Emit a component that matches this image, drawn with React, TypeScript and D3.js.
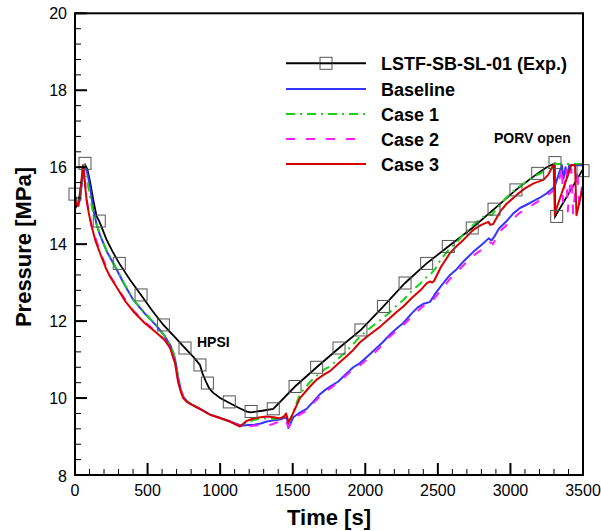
import React from 'react';
import * as d3 from 'd3';

// axis ticks
const xTicks = [0, 500, 1000, 1500, 2000, 2500, 3000, 3500];
const yTicks = [8, 10, 12, 14, 16, 18, 20];

// LSTF-SB-SL-01 experiment [time s, pressure MPa]
const expLine = [
  [0, 15.3], [12, 15.0], [25, 15.1], [40, 15.5], [55, 15.9], [70, 16.06], [85, 15.95], [105, 15.6],
  [126, 15.15], [149, 14.72], [167, 14.6], [218, 14.11], [260, 13.8], [305, 13.5], [380, 13.07],
  [455, 12.68], [530, 12.28], [609, 11.9], [690, 11.58], [758, 11.3], [820, 11.05], [861, 10.86],
  [880, 10.62], [903, 10.42], [925, 10.25], [951, 10.14], [1000, 10.0], [1045, 9.91], [1120, 9.76],
  [1183, 9.65], [1213, 9.63], [1290, 9.67], [1366, 9.72], [1516, 10.3], [1665, 10.8], [1819, 11.3],
  [1970, 11.77], [2125, 12.38], [2274, 12.99], [2423, 13.5], [2572, 13.94], [2737, 14.42],
  [2887, 14.91], [3038, 15.41], [3188, 15.84], [3250, 16.0], [3305, 16.1], [3308, 14.72], [3500, 15.95],
];
const expMarkers = [
  [0, 15.3], [69, 16.1], [167, 14.6], [305, 13.5], [455, 12.68], [609, 11.9], [758, 11.3], [861, 10.86],
  [912, 10.39], [1063, 9.9], [1213, 9.65], [1366, 9.72], [1516, 10.3], [1665, 10.8], [1819, 11.3],
  [1970, 11.77], [2125, 12.38], [2274, 12.99], [2423, 13.5], [2572, 13.94], [2737, 14.42],
  [2887, 14.91], [3038, 15.41], [3188, 15.84], [3307, 16.12], [3319, 14.72], [3500, 15.91],
];

const baseline = [
  [0, 15.2], [15, 15.05], [30, 15.1], [45, 15.5], [60, 15.95], [69, 16.06], [85, 15.85], [103, 15.5],
  [126, 14.9], [150, 14.5], [172, 14.24], [220, 13.8], [276, 13.42], [340, 12.95], [402, 12.55],
  [480, 12.2], [563, 11.87], [620, 11.6], [655, 11.38], [680, 11.15], [695, 10.9], [712, 10.5],
  [730, 10.2], [746, 10.04], [770, 9.92], [804, 9.83], [870, 9.7], [930, 9.57], [1000, 9.48],
  [1068, 9.39], [1148, 9.28], [1190, 9.3], [1229, 9.3], [1280, 9.34], [1321, 9.39], [1370, 9.42],
  [1412, 9.44], [1450, 9.5], [1462, 9.45], [1470, 9.22], [1480, 9.3], [1504, 9.5], [1540, 9.6],
  [1596, 9.72], [1640, 9.9], [1688, 10.1], [1720, 10.2], [1757, 10.3], [1814, 10.43], [1860, 10.6],
  [1917, 10.8], [1964, 10.91], [2020, 11.1], [2078, 11.3], [2120, 11.45], [2170, 11.65],
  [2220, 11.82], [2262, 11.95], [2320, 12.2], [2360, 12.35], [2400, 12.45], [2420, 12.47],
  [2446, 12.5], [2480, 12.7], [2520, 12.9], [2584, 13.2], [2630, 13.35], [2676, 13.55],
  [2744, 13.8], [2800, 13.98], [2850, 14.15], [2870, 14.1], [2890, 14.2], [2920, 14.4],
  [2974, 14.6], [3020, 14.8], [3066, 14.94], [3135, 15.07], [3200, 15.2], [3250, 15.32],
  [3300, 15.48], [3310, 15.55], [3335, 15.85], [3355, 16.05], [3365, 15.7], [3380, 16.0],
  [3392, 15.75], [3405, 16.05], [3500, 16.05],
];

const case1 = [
  [0, 15.2], [15, 15.05], [30, 15.15], [45, 15.6], [62, 16.05], [78, 15.8], [100, 15.3], [120, 14.9],
  [150, 14.5], [172, 14.26], [220, 13.82], [276, 13.43], [340, 12.97], [402, 12.56], [480, 12.22],
  [563, 11.88], [620, 11.6], [655, 11.38], [680, 11.15], [695, 10.9], [712, 10.5], [730, 10.2],
  [746, 10.05], [770, 9.93], [804, 9.84], [870, 9.7], [930, 9.57], [1000, 9.48], [1068, 9.39],
  [1137, 9.27], [1180, 9.36], [1229, 9.43], [1280, 9.46], [1321, 9.47], [1370, 9.46], [1412, 9.47],
  [1445, 9.52], [1458, 9.56], [1470, 9.4], [1490, 9.5], [1504, 9.65], [1550, 10.1], [1619, 10.42],
  [1665, 10.58], [1720, 10.75], [1757, 10.82], [1814, 11.02], [1860, 11.18], [1917, 11.4],
  [1964, 11.6], [2020, 11.78], [2101, 12.02], [2160, 12.2], [2220, 12.42], [2262, 12.55],
  [2320, 12.78], [2380, 12.98], [2423, 13.15], [2446, 13.2], [2480, 13.35], [2520, 13.6],
  [2584, 13.9], [2630, 14.05], [2676, 14.25], [2744, 14.5], [2800, 14.68], [2850, 14.78],
  [2870, 14.75], [2900, 14.9], [2974, 15.22], [3043, 15.45], [3100, 15.6], [3160, 15.75],
  [3227, 15.88], [3270, 16.0], [3290, 16.08], [3500, 16.08],
];

const case2 = [
  [0, 15.15], [23, 15.0], [39, 15.4], [55, 16.03], [62, 15.95], [80, 15.15], [115, 14.46],
  [172, 13.8], [241, 13.18], [320, 12.7], [402, 12.27], [480, 11.98], [563, 11.71], [620, 11.5],
  [655, 11.32], [689, 10.93], [712, 10.41], [746, 10.02], [804, 9.84], [930, 9.57], [1068, 9.39],
  [1140, 9.27], [1180, 9.25], [1229, 9.28], [1280, 9.3], [1321, 9.28], [1360, 9.32], [1412, 9.4],
  [1450, 9.45], [1470, 9.25], [1490, 9.35], [1520, 9.5], [1596, 9.68], [1688, 10.05], [1757, 10.25],
  [1814, 10.4], [1917, 10.75], [1964, 10.85], [2078, 11.22], [2170, 11.6], [2262, 11.9],
  [2400, 12.4], [2446, 12.45], [2520, 12.8], [2584, 13.1], [2676, 13.45], [2744, 13.7],
  [2800, 13.85], [2860, 14.05], [2880, 14.0], [2920, 14.3], [2974, 14.5], [3066, 14.82],
  [3135, 14.98], [3250, 15.25], [3300, 15.4], [3330, 15.55], [3355, 16.0], [3362, 15.1],
  [3385, 15.95], [3395, 14.85], [3420, 15.95], [3432, 14.8], [3460, 15.95], [3475, 15.0], [3500, 15.7],
];

const case3 = [
  [0, 15.15], [10, 15.05], [23, 15.0], [32, 15.2], [39, 15.4], [48, 15.8], [55, 16.05], [62, 15.9],
  [70, 15.5], [80, 15.15], [95, 14.8], [115, 14.46], [140, 14.1], [172, 13.77], [210, 13.4],
  [241, 13.16], [300, 12.8], [350, 12.5], [402, 12.25], [480, 11.95], [563, 11.69], [620, 11.5],
  [655, 11.3], [689, 10.91], [712, 10.39], [730, 10.15], [746, 10.0], [770, 9.9], [804, 9.83],
  [870, 9.7], [930, 9.57], [1000, 9.48], [1068, 9.39], [1137, 9.26], [1180, 9.4], [1229, 9.47],
  [1280, 9.5], [1321, 9.52], [1370, 9.5], [1412, 9.47], [1440, 9.52], [1454, 9.6], [1462, 9.5],
  [1470, 9.36], [1490, 9.5], [1504, 9.62], [1550, 10.0], [1619, 10.3], [1665, 10.48], [1720, 10.62],
  [1757, 10.7], [1814, 10.9], [1860, 11.05], [1917, 11.25], [1964, 11.45], [2020, 11.62],
  [2101, 11.85], [2160, 12.05], [2220, 12.25], [2262, 12.38], [2320, 12.6], [2380, 12.8],
  [2423, 12.98], [2446, 13.03], [2460, 13.0], [2475, 13.05], [2520, 13.4], [2584, 13.77],
  [2630, 13.95], [2676, 14.11], [2744, 14.37], [2800, 14.5], [2848, 14.58], [2862, 14.5],
  [2880, 14.52], [2930, 14.85], [2974, 15.05], [3043, 15.28], [3100, 15.45], [3160, 15.58],
  [3227, 15.67], [3260, 15.8], [3290, 16.02], [3298, 16.06], [3306, 14.75], [3315, 14.9],
  [3420, 16.06], [3445, 16.06], [3455, 14.75], [3500, 15.5],
];

const seriesNames = ['LSTF-SB-SL-01 (Exp.)', 'Baseline', 'Case 1', 'Case 2', 'Case 3'];

const W = 601;
const H = 531;
const left = 75, right = 583, top = 13.3, bottom = 475;

export default function App() {
  const x = d3.scaleLinear().domain([0, 3500]).range([left, right]);
  const y = d3.scaleLinear().domain([8, 20]).range([bottom, top]);
  const line = d3.line<number[]>().x((d) => x(d[0])).y((d) => y(d[1]));

  const sims = [
    { data: baseline, color: '#3535ff', dash: undefined },
    { data: case1, color: '#19d219', dash: '9,5,2,5' },
    { data: case2, color: '#ff1aff', dash: '9,11' },
    { data: case3, color: '#d90000', dash: undefined },
  ];

  const xMinor = d3.range(0, 3501, 100).filter((v) => v % 500 !== 0);
  const yMinor = d3.range(8, 20.01, 0.4).filter((v) => Math.abs(v / 2 - Math.round(v / 2)) > 0.01);

  const legendY = [63.3, 89, 114, 139, 164];
  const legendStyles = [
    { color: '#000', dash: undefined },
    { color: '#3535ff', dash: undefined },
    { color: '#19d219', dash: '9,5,2,5' },
    { color: '#ff1aff', dash: '9,11' },
    { color: '#d90000', dash: undefined },
  ];

  const font = 'Liberation Sans, Arial, sans-serif';

  return (
    <svg width={W} height={H} style={{ position: 'absolute', left: 0, top: 0, background: '#fff' }} fontFamily={font}>
      {/* curves */}
      <path d={line(expLine) || ''} fill="none" stroke="#000" strokeWidth={1.8} />
      {sims.map((s, i) => (
        <path key={i} d={line(s.data) || ''} fill="none" stroke={s.color} strokeWidth={2} strokeDasharray={s.dash} strokeLinejoin="round" />
      ))}
      {expMarkers.map((d, i) => (
        <rect key={i} x={x(d[0]) - 6} y={y(d[1]) - 6} width={12} height={12} fill="none" stroke="#555" strokeWidth={1} />
      ))}

      {/* frame */}
      <rect x={left} y={top} width={right - left} height={bottom - top} fill="none" stroke="#000" strokeWidth={2} />

      {/* x ticks */}
      {xTicks.map((t) => (
        <g key={t}>
          <line x1={x(t)} x2={x(t)} y1={bottom} y2={bottom - 12} stroke="#000" strokeWidth={2} />
          <text x={x(t)} y={bottom + 21} textAnchor="middle" fontSize={16}>{t}</text>
        </g>
      ))}
      {xMinor.map((t) => (
        <line key={t} x1={x(t)} x2={x(t)} y1={bottom} y2={bottom - 6} stroke="#000" strokeWidth={1} />
      ))}

      {/* y ticks */}
      {yTicks.map((t) => (
        <g key={t}>
          <line x1={left} x2={left + 12} y1={y(t)} y2={y(t)} stroke="#000" strokeWidth={2} />
          <text x={left - 8} y={y(t) + (t === 8 ? 7 : 5.5)} textAnchor="end" fontSize={16}>{t}</text>
        </g>
      ))}
      {yMinor.map((t) => (
        <line key={t} x1={left} x2={left + 6} y1={y(t)} y2={y(t)} stroke="#000" strokeWidth={1} />
      ))}

      {/* axis titles */}
      <text x={(left + right) / 2} y={525} textAnchor="middle" fontSize={22} fontWeight="bold">Time [s]</text>
      <text transform={`translate(31, 247) rotate(-90)`} textAnchor="middle" fontSize={22} fontWeight="bold">Pressure [MPa]</text>

      {/* annotations */}
      <text x={197} y={347} fontSize={14} fontWeight="bold">HPSI</text>
      <text x={494} y={143} fontSize={14} fontWeight="bold">PORV open</text>

      {/* legend */}
      {seriesNames.map((name, i) => (
        <g key={name}>
          <line x1={286} x2={366} y1={legendY[i]} y2={legendY[i]} stroke={legendStyles[i].color} strokeWidth={2} strokeDasharray={legendStyles[i].dash} />
          {i === 0 && <rect x={320} y={legendY[i] - 6} width={12} height={12} fill="#fff" stroke="#555" strokeWidth={1} />}
          {i === 0 && <line x1={320} x2={332} y1={legendY[i]} y2={legendY[i]} stroke="#000" strokeWidth={2} />}
          <text x={381} y={legendY[i] + 6.5} fontSize={18} fontWeight="bold">{name}</text>
        </g>
      ))}
    </svg>
  );
}
